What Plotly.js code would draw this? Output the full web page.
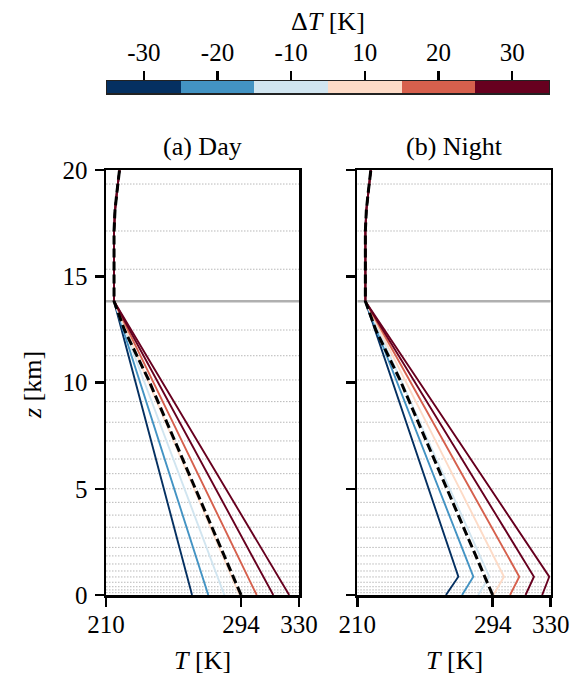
<!DOCTYPE html>
<html>
<head>
<meta charset="utf-8">
<script src="https://cdn.plot.ly/plotly-3.0.1.min.js"></script>
<style>html,body{margin:0;padding:0;background:#fff;}#chart{width:579px;height:675px;}</style>
</head>
<body>
<div id="chart"></div>
<script>
// ---- data ----
const deltaLabels = ['-30', '-20', '-10', '10', '20', '30'];
const barColors = ['#053061', '#4393c3', '#d1e5f0', '#fddbc7', '#d6604d', '#67001f'];
const lineColors = ['#053061', '#4393c3', '#d1e5f0', '#fddbc7', '#d6604d', '#67001f', '#67001f'];

const modelLevels = [0.11, 0.24, 0.39, 0.60, 0.85, 1.13, 1.46, 1.84, 2.24, 2.68, 3.19, 3.76,
  4.36, 5.00, 5.71, 6.40, 7.25, 8.13, 9.10, 10.12, 11.26, 12.47, 15.33, 17.13, 19.34];
const tropopauseZ = 13.82;

const stratZ = [13.82, 17.13, 18.1, 18.9, 20];
const stratT = [215.0, 215.0, 215.6, 216.7, 218.4];

const daySurfaceT = [263.5, 273.6, 283.6, 293.0, 303.7, 314.0, 323.9];
const nightSurfaceT = [265.0, 275.0, 285.0, 294.5, 304.8, 314.4, 324.7];
const nightInversionT = [272.7, 282.0, 291.9, 301.0, 310.5, 319.6, 329.1];
const inversionZ = 0.86;

const refTropoZ = [0, 10.12, 12.47];
const refTropoT = [294.0, 236.5, 221.5];

const xTicks = [210, 294, 330];
const yTicks = [0, 5, 10, 15, 20];
const xRange = [210, 330];
const yRange = [0, 20];

// ---- build traces ----
const traces = [];
function addPanel(xa, ya, night) {
  const gx = [], gy = [];
  modelLevels.forEach(l => { gx.push(xRange[0], xRange[1], null); gy.push(l, l, null); });
  traces.push({type: 'scatter', mode: 'lines', x: gx, y: gy, xaxis: xa, yaxis: ya,
    line: {color: '#b8b8b8', width: 1, dash: '1.5px,1.5px'}, hoverinfo: 'skip', showlegend: false});
  traces.push({type: 'scatter', mode: 'lines', x: xRange, y: [tropopauseZ, tropopauseZ], xaxis: xa, yaxis: ya,
    line: {color: '#b0b0b0', width: 2.5}, hoverinfo: 'skip', showlegend: false});
  for (let i = 0; i < lineColors.length; i++) {
    let z, t;
    if (night) {
      z = [0, inversionZ].concat(stratZ);
      t = [nightSurfaceT[i], nightInversionT[i]].concat(stratT);
    } else {
      z = [0].concat(stratZ);
      t = [daySurfaceT[i]].concat(stratT);
    }
    traces.push({type: 'scatter', mode: 'lines', x: t, y: z, xaxis: xa, yaxis: ya,
      line: {color: lineColors[i], width: 1.9}, showlegend: false});
  }
  traces.push({type: 'scatter', mode: 'lines', x: refTropoT.concat(stratT), y: refTropoZ.concat(stratZ),
    xaxis: xa, yaxis: ya, line: {color: '#000', width: 3, dash: '9px,4px'}, showlegend: false});
}
addPanel('x', 'y', false);
addPanel('x2', 'y2', true);

// colour bar
const cs = [];
barColors.forEach((c, i) => { cs.push([i / barColors.length, c]); cs.push([(i + 1) / barColors.length, c]); });
traces.push({type: 'heatmap', z: [deltaLabels.map((_, i) => i)], x: deltaLabels.map((_, i) => i), y: [0],
  xaxis: 'x3', yaxis: 'y3', colorscale: cs, zmin: -0.5, zmax: barColors.length - 0.5, showscale: false, hoverinfo: 'skip'});

const W = 579, H = 675;
const px = v => v / W, py = v => (H - v) / H;
const font = {family: 'Liberation Serif, serif', size: 25, color: '#000'};

const axBase = {showline: true, mirror: true, linecolor: '#000', linewidth: 2.5, ticks: 'outside',
  ticklen: 9, tickwidth: 2.5, tickcolor: '#000', showgrid: false, zeroline: false, fixedrange: true};

const layout = {
  width: W, height: H, margin: {l: 0, r: 0, t: 0, b: 0}, paper_bgcolor: '#fff', plot_bgcolor: '#fff',
  font: font, showlegend: false,
  xaxis: Object.assign({}, axBase, {domain: [px(106), px(299)], range: xRange, tickvals: xTicks, anchor: 'y', ticklabelstandoff: -4}),
  yaxis: Object.assign({}, axBase, {domain: [py(595), py(170)], range: yRange, tickvals: yTicks, anchor: 'x', ticklabelstandoff: 2}),
  xaxis2: Object.assign({}, axBase, {domain: [px(357.3), px(550.7)], range: xRange, tickvals: xTicks, anchor: 'y2', ticklabelstandoff: -4}),
  yaxis2: Object.assign({}, axBase, {domain: [py(595), py(170)], range: yRange, tickvals: yTicks, anchor: 'x2', showticklabels: false}),
  xaxis3: {domain: [px(107), px(549)], range: [-0.5, barColors.length - 0.5], anchor: 'y3', side: 'top',
    tickvals: deltaLabels.map((_, i) => i), ticktext: deltaLabels, ticks: 'outside', ticklen: 9, tickwidth: 2.5,
    tickcolor: '#000', showline: true, mirror: true, linecolor: '#222', linewidth: 1.2, showgrid: false, zeroline: false, fixedrange: true},
  yaxis3: {domain: [py(93.3), py(81)], range: [-0.5, 0.5], anchor: 'x3', showticklabels: false, ticks: '',
    showline: true, mirror: true, linecolor: '#222', linewidth: 1.2, showgrid: false, zeroline: false, fixedrange: true},
  annotations: [
    {text: '(a) Day', x: px(202.5), y: py(146), xref: 'paper', yref: 'paper', showarrow: false, xanchor: 'center', yanchor: 'middle', font: {size: 26}},
    {text: '(b) Night', x: px(454), y: py(146), xref: 'paper', yref: 'paper', showarrow: false, xanchor: 'center', yanchor: 'middle', font: {size: 26}},
    {text: '<i>T</i> [K]', x: px(202.5), y: py(660), xref: 'paper', yref: 'paper', showarrow: false, xanchor: 'center', yanchor: 'middle', font: {size: 26}},
    {text: '<i>T</i> [K]', x: px(454), y: py(660), xref: 'paper', yref: 'paper', showarrow: false, xanchor: 'center', yanchor: 'middle', font: {size: 26}},
    {text: '<i>z</i> [km]', x: px(32), y: py(385), xref: 'paper', yref: 'paper', showarrow: false, textangle: -90, xanchor: 'center', yanchor: 'middle', font: {size: 26}},
    {text: 'Δ<i>T</i> [K]', x: px(328), y: py(21.7), xref: 'paper', yref: 'paper', showarrow: false, xanchor: 'center', yanchor: 'middle', font: {size: 26}}
  ]
};

Plotly.newPlot('chart', traces, layout, {staticPlot: true, displayModeBar: false});
</script>
</body>
</html>
